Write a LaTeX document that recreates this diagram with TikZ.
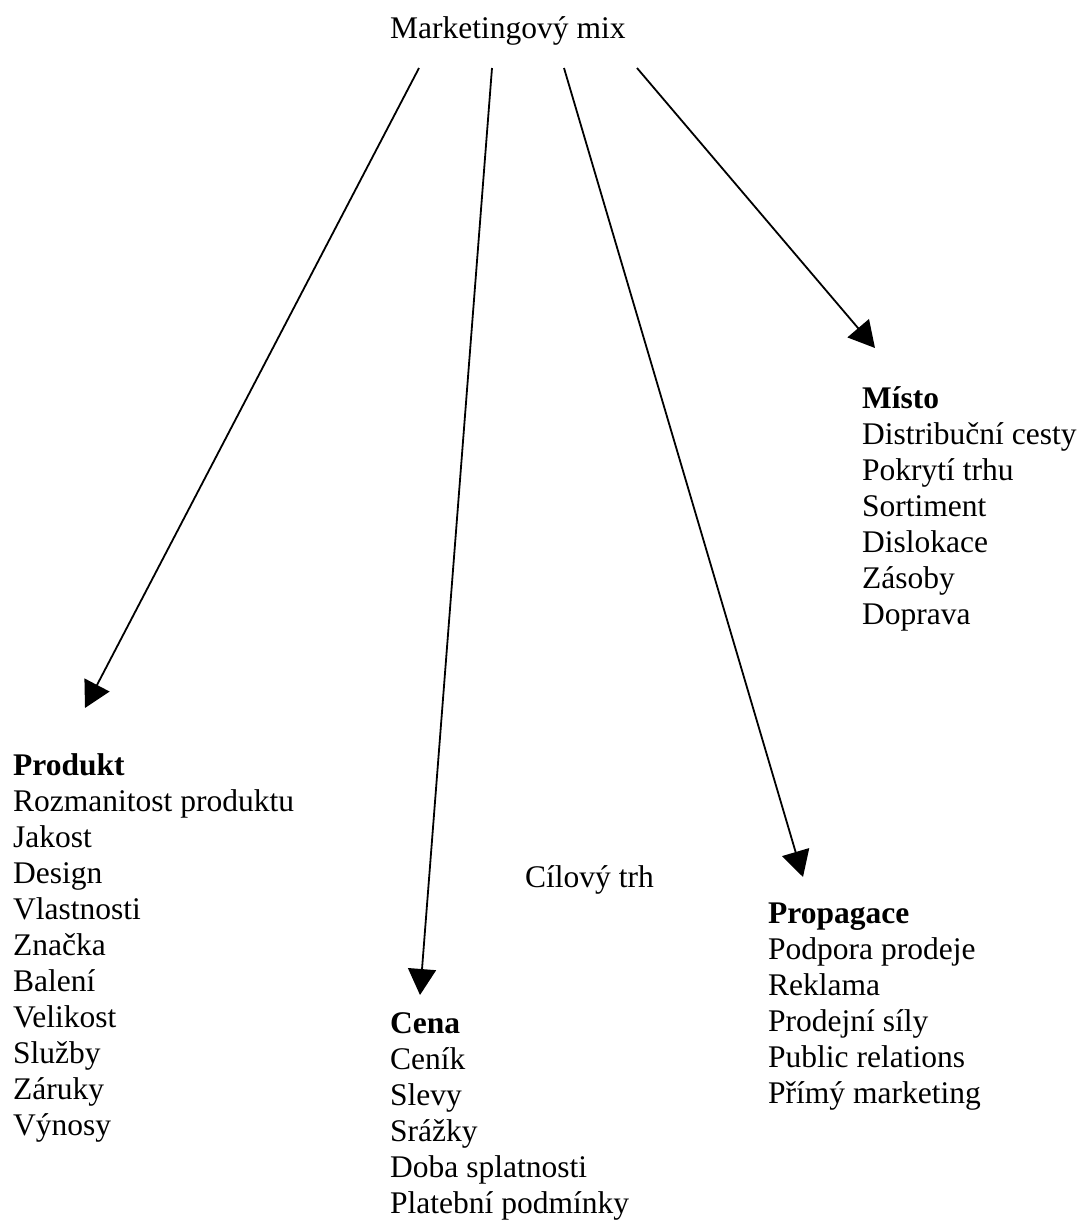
\documentclass[tikz,border=0pt]{standalone}
\usepackage{fontspec}
\setmainfont{Liberation Serif}
\usetikzlibrary{arrows.meta}
\begin{document}
\begin{tikzpicture}[x=1pt,y=-1pt,
  txt/.style={font=\fontsize{31.5}{36}\selectfont, inner sep=0pt, align=left, anchor=north west},
  arr/.style={line width=1.8pt, -{Triangle[length=26pt,width=28pt]}}]
\useasboundingbox (0,0) rectangle (1083,1224);
\node[txt] (title) at (390,12.8) {\strut Marketingový mix};
\node[txt] (misto) at (862,382.8) {\strut\textbf{Místo}\\Distribuční cesty\\Pokrytí trhu\\Sortiment\\Dislokace\\Zásoby\\Doprava};
\node[txt] (produkt) at (13,749.8) {\strut\textbf{Produkt}\\Rozmanitost produktu\\Jakost\\Design\\Vlastnosti\\Značka\\Balení\\Velikost\\Služby\\Záruky\\Výnosy};
\node[txt] (propagace) at (768,897.8) {\strut\textbf{Propagace}\\Podpora prodeje\\Reklama\\Prodejní síly\\Public relations\\Přímý marketing};
\node[txt] (cena) at (390,1007.8) {\strut\textbf{Cena}\\Ceník\\Slevy\\Srážky\\Doba splatnosti\\Platební podmínky};
\node[txt] (cil) at (525,861.8) {\strut Cílový trh};
\coordinate (s1) at (419,68);
\coordinate (s2) at (492,68);
\coordinate (s3) at (564,68);
\coordinate (s4) at (637,68);
\coordinate (t1) at (85,708);
\coordinate (t2) at (420,995);
\coordinate (t3) at (803,877);
\coordinate (t4) at (875,348);
\draw[arr] (s1) -- (t1);
\draw[arr] (s2) -- (t2);
\draw[arr] (s3) -- (t3);
\draw[arr] (s4) -- (t4);
\end{tikzpicture}
\end{document}
